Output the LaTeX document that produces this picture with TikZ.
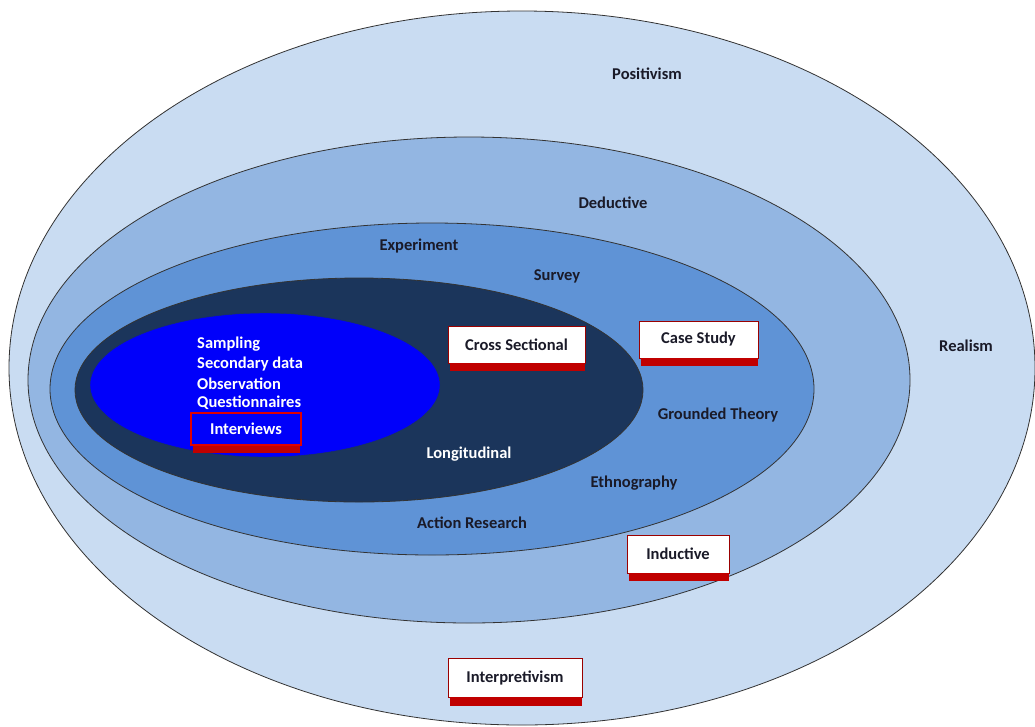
\documentclass[tikz,border=0pt]{standalone}
\usepackage{fontspec}
\setmainfont{Carlito}
\definecolor{ringA}{HTML}{C9DCF2}
\definecolor{ringB}{HTML}{93B6E2}
\definecolor{ringC}{HTML}{5F93D6}
\definecolor{ringD}{HTML}{1B355B}
\definecolor{ringE}{HTML}{0000FA}
\definecolor{txtdark}{HTML}{1A1A28}
\definecolor{boxred}{HTML}{C00000}
\definecolor{outlinered}{HTML}{E00000}
\begin{document}
\begin{tikzpicture}[x=1pt,y=-1pt,
  ring/.style={draw=black!80,line width=0.8pt},
  lbl/.style={font=\bfseries\fontsize{16.5}{18}\selectfont,text=txtdark,inner sep=0pt},
  wlbl/.style={font=\bfseries\fontsize{16.5}{18}\selectfont,text=white,inner sep=0pt},
  tagbox/.style={draw=boxred!80!black,line width=0.6pt,fill=white,font=\bfseries\fontsize{16.5}{18}\selectfont,text=txtdark,inner sep=0pt},
  redbar/.style={fill=boxred}
]
\useasboundingbox (0,0) rectangle (1035,726);
\fill[white] (0,0) rectangle (1035,726);
\begin{scope}
\clip (0,0) rectangle (1035,726);
\filldraw[ring,fill=ringA] (522,368) ellipse [x radius=513pt, y radius=357pt];
\filldraw[ring,fill=ringB] (469,380) ellipse [x radius=441pt, y radius=243pt];
\filldraw[ring,fill=ringC] (432,389) ellipse [x radius=382pt, y radius=166pt];
\filldraw[ring,fill=ringD] (359,390) ellipse [x radius=284pt, y radius=112pt];
\filldraw[draw=ringD,fill=ringE] (265,385) ellipse [x radius=175pt, y radius=72pt];
\end{scope}

% plain labels
\node[lbl] (positivism) at (647,74) {Positivism};
\node[lbl] (deductive) at (613,203) {Deductive};
\node[lbl] (experiment) at (419,246) {Experiment};
\node[lbl] (survey) at (557,276) {Survey};
\node[lbl] (realism) at (966,346) {Realism};
\node[lbl] (grounded) at (718,415) {Grounded Theory};
\node[lbl] (ethno) at (634,483) {Ethnography};
\node[lbl] (action) at (472,523) {Action Research};
\node[wlbl] (longit) at (469,454) {Longitudinal};

\node[wlbl,anchor=west] (sampling) at (197,344) {Sampling};
\node[wlbl,anchor=west] (secondary) at (197,364) {Secondary data};
\node[wlbl,anchor=west] (observation) at (197,384) {Observation};
\node[wlbl,anchor=west] (question) at (197,403) {Questionnaires};

% boxed labels
\fill[redbar] (193,445) rectangle (300,453);
\node[draw=outlinered,line width=1.4pt,minimum width=110pt,minimum height=32pt,inner sep=0pt,wlbl] (interviews) at (246,429) {Interviews};

\node[tagbox,minimum width=137pt,minimum height=37pt] (cross) at (516.5,344.5) {Cross Sectional};
\fill[redbar] ([xshift=2pt]cross.south west) rectangle ([yshift=-8pt]cross.south east);

\node[tagbox,minimum width=119pt,minimum height=37pt] (casestudy) at (698.5,339.5) {Case Study};
\fill[redbar] ([xshift=2pt]casestudy.south west) rectangle ([yshift=-8pt]casestudy.south east);

\node[tagbox,minimum width=102pt,minimum height=38pt] (inductive) at (678,554) {Inductive};
\fill[redbar] ([xshift=2pt]inductive.south west) rectangle ([yshift=-8pt]inductive.south east);

\node[tagbox,minimum width=134pt,minimum height=39pt] (interp) at (515,677.5) {Interpretivism};
\fill[redbar] ([xshift=2pt]interp.south west) rectangle ([yshift=-9pt]interp.south east);
\end{tikzpicture}
\end{document}
